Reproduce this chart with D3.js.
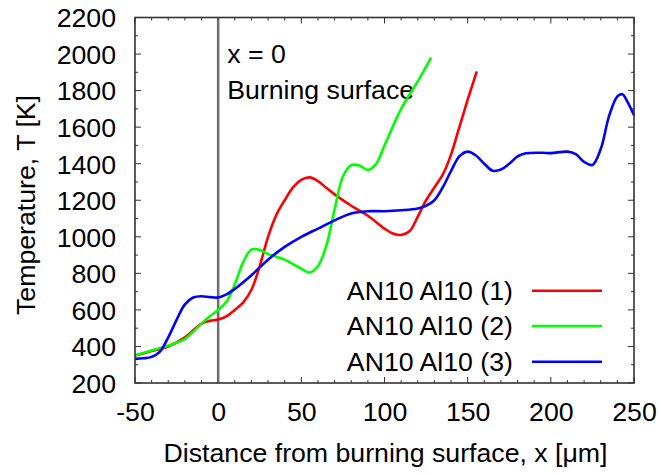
<!DOCTYPE html>
<html><head><meta charset="utf-8">
<script src="https://cdn.jsdelivr.net/npm/d3@7"></script>
<style>
body{margin:0;background:#fff;}
text{font-family:"Liberation Sans",Arial,sans-serif;fill:#000;}
</style></head>
<body>
<svg id="c" width="659" height="473"></svg>
<script>
const xTicks = [-50, 0, 50, 100, 150, 200, 250];
const yTicks = [200, 400, 600, 800, 1000, 1200, 1400, 1600, 1800, 2000, 2200];
const seriesNames = ["AN10 Al10 (1)", "AN10 Al10 (2)", "AN10 Al10 (3)"];
const seriesColors = ["#ff0000", "#00ff00", "#0000ff"];

const s1x = [-50,-40,-30,-20,-10,-5,0,5,10,15,20,25,30,35,40,45,50,55,60,65,70,80,90,100,105,110,115,120,125,130,135,140,145,150,155.5];
const s1y = [350,375,400,450,525,540,548,565,600,640,710,840,1000,1120,1200,1270,1312,1325,1305,1268,1232,1170,1115,1045,1018,1010,1030,1110,1200,1270,1340,1450,1600,1750,1905];

const s2x = [-50,-40,-30,-20,-16,-10,-5,0,5,10,15,20,25,30,40,50,55,60,65,70,75,80,85,90,95,100,110,120,128];
const s2y = [350,378,405,440,472,525,565,600,645,740,860,930,928,905,875,825,805,840,950,1150,1330,1392,1390,1366,1400,1500,1700,1850,1980];

const s3x = [-50,-45,-40,-35,-30,-25,-20,-15,-10,-5,0,5,10,20,30,40,50,60,70,80,90,100,110,120,125,130,135,140,145,150,155,160,165,170,175,180,185,195,200,210,215,220,225,230,235,240,243,246,250];
const s3y = [332,335,343,372,450,545,630,668,675,670,668,685,715,790,875,945,1000,1045,1090,1128,1140,1140,1145,1155,1170,1200,1270,1360,1440,1466,1445,1400,1362,1368,1400,1440,1457,1460,1458,1466,1452,1410,1393,1480,1660,1768,1780,1740,1665];

const FS = 26.7;
const svg = d3.select("#c");
const L = 135, R = 634, T = 17.5, B = 383;
const x = d3.scaleLinear().domain([-50, 250]).range([L, R]);
const y = d3.scaleLinear().domain([200, 2200]).range([B, T]);

const axisColor = "#333";
const g = svg.append("g");
const xMinor = d3.range(-50, 251, 10);
const yMinor = d3.range(200, 2201, 100);
xMinor.forEach(v => {
  const len = xTicks.includes(v) ? 6 : 3;
  g.append("line").attr("x1", x(v)).attr("x2", x(v)).attr("y1", B).attr("y2", B - len).attr("stroke", axisColor).attr("stroke-width", 1);
  g.append("line").attr("x1", x(v)).attr("x2", x(v)).attr("y1", T).attr("y2", T + len).attr("stroke", axisColor).attr("stroke-width", 1);
});
yMinor.forEach(v => {
  const len = yTicks.includes(v) ? 6 : 3;
  g.append("line").attr("x1", L).attr("x2", L + len).attr("y1", y(v)).attr("y2", y(v)).attr("stroke", axisColor).attr("stroke-width", 1);
  g.append("line").attr("x1", R).attr("x2", R - len).attr("y1", y(v)).attr("y2", y(v)).attr("stroke", axisColor).attr("stroke-width", 1);
});

const fmt = d => String(d);
const xAxis = d3.axisBottom(x).tickValues(xTicks).tickSize(0).tickPadding(0).tickFormat(fmt);
const xg = svg.append("g").attr("transform", `translate(0,${B})`).call(xAxis);
xg.select(".domain").remove();
xg.selectAll("text").attr("font-size", FS).attr("dy", null).attr("y", 37.5).attr("font-family", "Liberation Sans, Arial, sans-serif").attr("fill", "#000");

const yAxis = d3.axisLeft(y).tickValues(yTicks).tickSize(0).tickPadding(0).tickFormat(fmt);
const yg = svg.append("g").attr("transform", `translate(${L},0)`).call(yAxis);
yg.select(".domain").remove();
yg.selectAll("text").attr("font-size", FS).attr("x", -19).attr("dy", "0.35em").attr("font-family", "Liberation Sans, Arial, sans-serif").attr("fill", "#000");

svg.append("line").attr("x1", x(0)).attr("x2", x(0)).attr("y1", T).attr("y2", B).attr("stroke", "#6e6e6e").attr("stroke-width", 2.5);

svg.append("text").attr("x", x(0) + 9).attr("y", 63).attr("font-size", FS).text("x = 0");
svg.append("text").attr("x", x(0) + 9).attr("y", 99).attr("font-size", FS).text("Burning surface");

const line = d3.line().x(d => x(d[0])).y(d => y(d[1])).curve(d3.curveCatmullRom.alpha(0.5));
const all = [[s1x, s1y], [s2x, s2y], [s3x, s3y]];
all.forEach((s, i) => {
  const pts = s[0].map((v, k) => [v, s[1][k]]);
  svg.append("path").datum(pts).attr("d", line).attr("fill", "none").attr("stroke", seriesColors[i]).attr("stroke-width", 2.6).attr("stroke-linejoin", "round");
});

svg.append("rect").attr("x", L).attr("y", T).attr("width", R - L).attr("height", B - T).attr("fill", "none").attr("stroke", axisColor).attr("stroke-width", 1.6);

const legY = [290.7, 326, 361.7];
seriesNames.forEach((n, i) => {
  svg.append("text").attr("x", 513).attr("y", legY[i]).attr("dy", "0.35em").attr("text-anchor", "end").attr("font-size", FS).text(n);
  svg.append("line").attr("x1", 532).attr("x2", 602).attr("y1", legY[i]).attr("y2", legY[i]).attr("stroke", seriesColors[i]).attr("stroke-width", 2.6);
});

svg.append("text").attr("x", 385.5).attr("y", 462).attr("text-anchor", "middle").attr("font-size", FS).text("Distance from burning surface, x [μm]");
svg.append("text").attr("transform", "translate(35,205) rotate(-90)").attr("text-anchor", "middle").attr("font-size", FS).text("Temperature, T [K]");
</script>
</body></html>
